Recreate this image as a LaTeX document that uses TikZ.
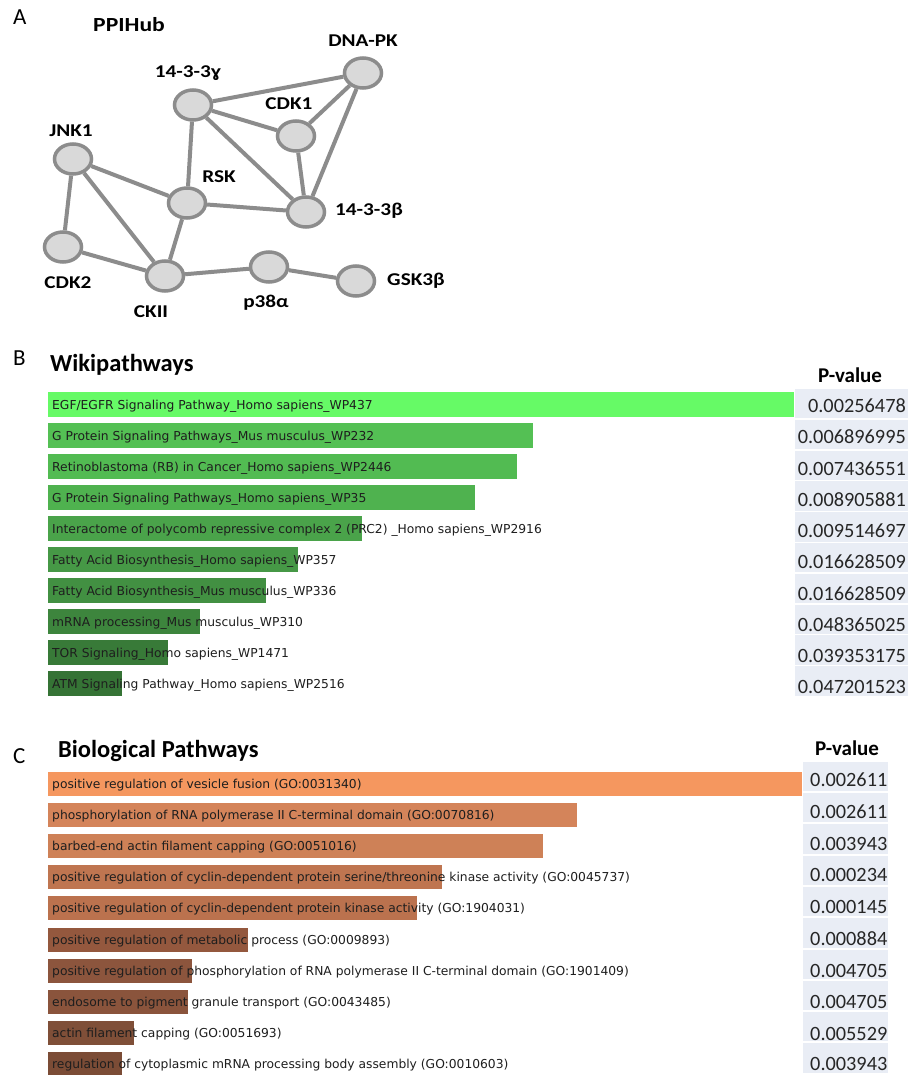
\documentclass[tikz,border=0pt]{standalone}
\usepackage{fontspec}
\setmainfont{Carlito}
\newfontfamily\barfont{DejaVu Sans}
\newfontfamily\netfont[FakeStretch=1.18]{Carlito}
\usetikzlibrary{shapes.geometric}
\definecolor{edgegray}{RGB}{140,140,140}
\definecolor{nodegray}{RGB}{217,217,217}
\definecolor{cellbg}{RGB}{233,237,245}
\definecolor{bartxt}{RGB}{30,30,30}
\definecolor{ga}{RGB}{102,250,102}
\definecolor{gb}{RGB}{84,192,84}
\definecolor{gc}{RGB}{82,187,82}
\definecolor{gd}{RGB}{79,178,79}
\definecolor{ge}{RGB}{74,163,74}
\definecolor{gf}{RGB}{70,152,70}
\definecolor{gg}{RGB}{66,144,66}
\definecolor{gh}{RGB}{61,133,61}
\definecolor{gi}{RGB}{56,122,56}
\definecolor{gj}{RGB}{53,115,53}
\definecolor{oa}{RGB}{245,151,95}
\definecolor{ob}{RGB}{212,132,90}
\definecolor{oc}{RGB}{206,129,87}
\definecolor{od}{RGB}{191,117,80}
\definecolor{oe}{RGB}{187,114,78}
\definecolor{of}{RGB}{148,88,62}
\definecolor{og}{RGB}{140,85,61}
\definecolor{oh}{RGB}{138,84,60}
\definecolor{oi}{RGB}{127,79,56}
\definecolor{oj}{RGB}{123,76,54}
% bar: #1 name, #2 top, #3 right, #4 colour, #5 height, #6 text
\newcommand{\pbar}[6]{%
  \fill[#4] (48,#2) rectangle (#3,#2+#5);
  \node[bartext] (#1) at (52,#2+#5*0.5+4.5) {#6};}
% value cell: #1 name, #2 top, #3 left, #4 right, #5 baseline, #6 value, #7 anchor x, #8 anchor
\newcommand{\pcell}[8]{%
  \fill[cellbg] (#3,#2) rectangle (#4,#2+29.3);
  \node[pval,anchor=#8] (#1) at (#7,#5) {#6};}
\begin{document}
\begin{tikzpicture}[x=1pt,y=-1pt,
  conn/.style={draw=edgegray,line width=4pt},
  prot/.style={ellipse,draw=edgegray,line width=3.5pt,fill=nodegray,
    minimum width=37pt,minimum height=30pt,inner sep=0pt},
  plabel/.style={font={\fontsize{18}{20}\netfont\bfseries},anchor=base,inner sep=0pt},
  panel/.style={font={\fontsize{23}{26}\selectfont},anchor=base west,inner sep=0pt},
  title/.style={font={\fontsize{24.5}{28}\selectfont\bfseries},anchor=base west,inner sep=0pt},
  phead/.style={font={\fontsize{21}{24}\selectfont\bfseries},anchor=base,inner sep=0pt},
  bartext/.style={font={\fontsize{12.3}{14}\barfont},text=bartxt,anchor=base west,inner sep=0pt},
  pval/.style={font={\fontsize{20.3}{24}\selectfont},text=black!85,inner sep=0pt}]
\useasboundingbox (0,0) rectangle (910,1075);
\fill[white] (0,0) rectangle (910,1075);

% ---------------- Panel A ----------------
\node[panel] (lA) at (13,25) {A};
\node[font={\fontsize{20}{24}\netfont\bfseries},anchor=base west,inner sep=0pt] (hub) at (93,32) {PPIHub};

\node[prot] (g)    at (193,105) {};
\node[prot] (dna)  at (363,73)  {};
\node[prot] (cdk1) at (296,136) {};
\node[prot] (jnk)  at (73,159)  {};
\node[prot] (rsk)  at (187,203) {};
\node[prot] (b)    at (306,212) {};
\node[prot] (cdk2) at (63,247)  {};
\node[prot] (ck)   at (165,276) {};
\node[prot] (p38)  at (269,267) {};
\node[prot] (gsk)  at (356,281) {};

\draw[conn] (g) -- (dna);
\draw[conn] (g) -- (cdk1);
\draw[conn] (g) -- (rsk);
\draw[conn] (g) -- (b);
\draw[conn] (dna) -- (cdk1);
\draw[conn] (dna) -- (b);
\draw[conn] (cdk1) -- (b);
\draw[conn] (jnk) -- (rsk);
\draw[conn] (jnk) -- (cdk2);
\draw[conn] (jnk) -- (ck);
\draw[conn] (rsk) -- (b);
\draw[conn] (rsk) -- (ck);
\draw[conn] (cdk2) -- (ck);
\draw[conn] (ck) -- (p38);
\draw[conn] (p38) -- (gsk);

\node[plabel] (tdna)  at (363,47)  {DNA-PK};
\node[plabel] (tg)    at (188,78)  {14-3-3ɣ};
\node[plabel] (tcdk1) at (289,110) {CDK1};
\node[plabel] (tjnk)  at (71,137)  {JNK1};
\node[plabel] (trsk)  at (219,183) {RSK};
\node[plabel] (tb)    at (369,215) {14-3-3β};
\node[plabel] (tcdk2) at (68,288)  {CDK2};
\node[plabel] (tck)   at (151,317) {CKII};
\node[plabel] (tp38)  at (266,307) {p38α};
\node[plabel] (tgsk)  at (416,285) {GSK3β};

% ---------------- Panel B ----------------
\node[panel] (lB) at (13,365) {B};
\node[title] (tB) at (50,371) {Wikipathways};
\node[phead] (hB) at (850,382) {P-value};

\pbar{b1}{392}{794}{ga}{25}{EGF/EGFR Signaling Pathway\_Homo sapiens\_WP437}
\pbar{b2}{423}{533}{gb}{25}{G Protein Signaling Pathways\_Mus musculus\_WP232}
\pbar{b3}{454}{517}{gc}{25}{Retinoblastoma (RB) in Cancer\_Homo sapiens\_WP2446}
\pbar{b4}{485}{475}{gd}{25}{G Protein Signaling Pathways\_Homo sapiens\_WP35}
\pbar{b5}{516}{362}{ge}{25}{Interactome of polycomb repressive complex 2 (PRC2) \_Homo sapiens\_WP2916}
\pbar{b6}{547}{298}{gf}{25}{Fatty Acid Biosynthesis\_Homo sapiens\_WP357}
\pbar{b7}{578}{266}{gg}{25}{Fatty Acid Biosynthesis\_Mus musculus\_WP336}
\pbar{b8}{609}{200}{gh}{25}{mRNA processing\_Mus musculus\_WP310}
\pbar{b9}{640}{168}{gi}{25}{TOR Signaling\_Homo sapiens\_WP1471}
\pbar{b10}{671}{122}{gj}{25}{ATM Signaling Pathway\_Homo sapiens\_WP2516}

\pcell{vb1}{389}{795}{908}{412.7}{0.00256478}{906}{base east}
\pcell{vb2}{419.8}{795}{908}{443.9}{0.006896995}{906}{base east}
\pcell{vb3}{450.6}{795}{908}{475.2}{0.007436551}{906}{base east}
\pcell{vb4}{481.4}{795}{908}{506.4}{0.008905881}{906}{base east}
\pcell{vb5}{512.2}{795}{908}{537.7}{0.009514697}{906}{base east}
\pcell{vb6}{543}{795}{908}{568.9}{0.016628509}{906}{base east}
\pcell{vb7}{573.8}{795}{908}{600.2}{0.016628509}{906}{base east}
\pcell{vb8}{604.6}{795}{908}{631.4}{0.048365025}{906}{base east}
\pcell{vb9}{635.4}{795}{908}{662.7}{0.039353175}{906}{base east}
\pcell{vb10}{666.2}{795}{908}{693.9}{0.047201523}{906}{base east}

% ---------------- Panel C ----------------
\node[panel] (lC) at (13,763) {C};
\node[title] (tC) at (58,757) {Biological Pathways};
\node[phead] (hC) at (847,755) {P-value};

\pbar{c1}{772}{802}{oa}{24}{positive regulation of vesicle fusion (GO:0031340)}
\pbar{c2}{803.1}{577}{ob}{24}{phosphorylation of RNA polymerase II C-terminal domain (GO:0070816)}
\pbar{c3}{834.2}{543}{oc}{24}{barbed-end actin filament capping (GO:0051016)}
\pbar{c4}{865.3}{442}{od}{24}{positive regulation of cyclin-dependent protein serine/threonine kinase activity (GO:0045737)}
\pbar{c5}{896.4}{417}{oe}{24}{positive regulation of cyclin-dependent protein kinase activity (GO:1904031)}
\pbar{c6}{927.5}{248}{of}{24}{positive regulation of metabolic process (GO:0009893)}
\pbar{c7}{958.6}{192}{og}{24}{positive regulation of phosphorylation of RNA polymerase II C-terminal domain (GO:1901409)}
\pbar{c8}{989.7}{188}{oh}{24}{endosome to pigment granule transport (GO:0043485)}
\pbar{c9}{1020.8}{134}{oi}{24}{actin filament capping (GO:0051693)}
\pbar{c10}{1051.9}{122}{oj}{24}{regulation of cytoplasmic mRNA processing body assembly (GO:0010603)}

\pcell{vc1}{761.7}{803}{888}{786.7}{0.002611}{810}{base west}
\pcell{vc2}{793}{803}{888}{818.4}{0.002611}{810}{base west}
\pcell{vc3}{824.3}{803}{888}{850.2}{0.003943}{810}{base west}
\pcell{vc4}{855.6}{803}{888}{881.9}{0.000234}{810}{base west}
\pcell{vc5}{886.9}{803}{888}{913.7}{0.000145}{810}{base west}
\pcell{vc6}{918.2}{803}{888}{945.4}{0.000884}{810}{base west}
\pcell{vc7}{949.5}{803}{888}{977.2}{0.004705}{810}{base west}
\pcell{vc8}{980.8}{803}{888}{1008.9}{0.004705}{810}{base west}
\pcell{vc9}{1012.1}{803}{888}{1040.2}{0.005529}{810}{base west}
\pcell{vc10}{1043.4}{803}{888}{1070.5}{0.003943}{810}{base west}
\end{tikzpicture}
\end{document}
